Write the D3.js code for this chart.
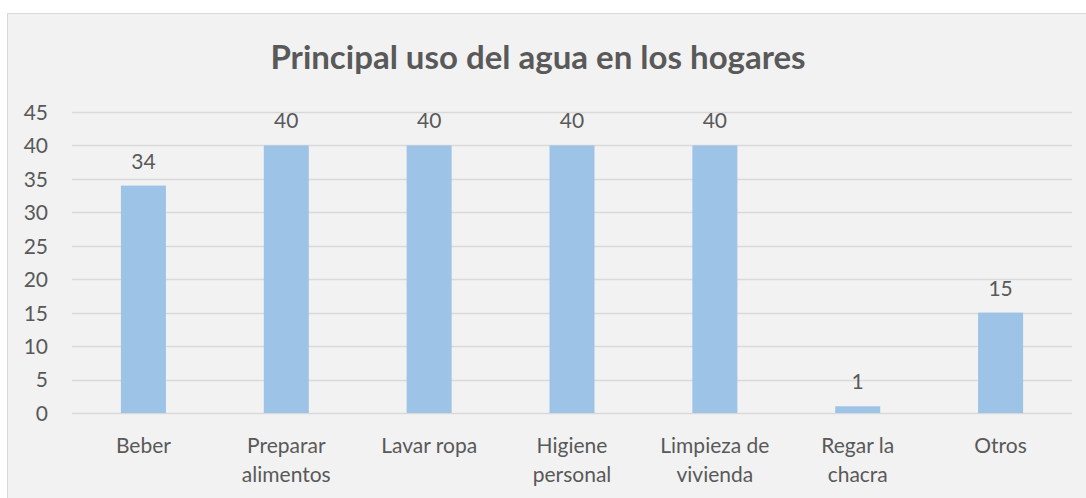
<!DOCTYPE html>
<html>
<head>
<meta charset="utf-8">
<script src="https://cdn.jsdelivr.net/npm/d3@7"></script>
<style>
  html, body { margin: 0; padding: 0; background: #ffffff; }
  svg { display: block; }
  text { font-family: Lato, "Open Sans", sans-serif; fill: #595959; }
</style>
</head>
<body>
<svg id="chart" width="1086" height="498"></svg>
<script>
// Category labels ("\n" marks a line break under the axis)
const categories = [
  "Beber",
  "Preparar\nalimentos",
  "Lavar ropa",
  "Higiene\npersonal",
  "Limpieza de\nvivienda",
  "Regar la\nchacra",
  "Otros"
];
// Number of households per use
const values = [34, 40, 40, 40, 40, 1, 15];
// Y-axis ticks
const yTicks = [0, 5, 10, 15, 20, 25, 30, 35, 40, 45];
const title = "Principal uso del agua en los hogares";

const svg = d3.select("#chart");
const W = 1086, H = 498;

// Chart area panel
svg.append("rect")
  .attr("x", 7.5).attr("y", 13.5)
  .attr("width", W).attr("height", H)
  .attr("fill", "#f2f2f2")
  .attr("stroke", "#d9d9d9").attr("stroke-width", 1);

const plot = { left: 72, right: 1072, top: 112, bottom: 413 };

const x = d3.scaleBand()
  .domain(categories)
  .range([plot.left, plot.right])
  .paddingInner(0.685)
  .paddingOuter(0.3425);

const y = d3.scaleLinear()
  .domain([0, 45])
  .range([plot.bottom, plot.top]);

// Title
svg.append("text")
  .attr("x", 538).attr("y", 69)
  .attr("text-anchor", "middle")
  .style("font-size", "33px")
  .style("font-weight", "bold")
  .text(title);

// Gridlines
svg.append("g")
  .selectAll("line")
  .data(yTicks)
  .join("line")
  .attr("x1", plot.left).attr("x2", plot.right)
  .attr("y1", d => Math.round(y(d)) + 0.5)
  .attr("y2", d => Math.round(y(d)) + 0.5)
  .attr("stroke", "#d9d9d9")
  .attr("stroke-width", 1.5);

// Y axis labels
const yAxis = d3.axisLeft(y).tickValues(yTicks).tickSize(0).tickPadding(0);
const gy = svg.append("g")
  .attr("transform", `translate(48,0)`)
  .call(yAxis);
gy.select(".domain").remove();
gy.selectAll("text")
  .attr("dy", "0.35em")
  .style("font-size", "21px")
  .style("fill", "#595959");

// Bars
svg.append("g")
  .selectAll("rect")
  .data(values)
  .join("rect")
  .attr("x", (d, i) => x(categories[i]))
  .attr("width", x.bandwidth())
  .attr("y", d => y(d))
  .attr("height", d => y(0) - y(d))
  .attr("fill", "#9dc3e6");

// Value labels
svg.append("g")
  .selectAll("text")
  .data(values)
  .join("text")
  .attr("x", (d, i) => x(categories[i]) + x.bandwidth() / 2)
  .attr("y", d => y(d) - 17)
  .attr("text-anchor", "middle")
  .style("font-size", "21px")
  .text(d => d);

// Category labels, wrapped on "\n"
const xAxis = d3.axisBottom(x).tickSize(0).tickFormat("");
const gx = svg.append("g")
  .attr("transform", `translate(0,${plot.bottom})`)
  .call(xAxis);
gx.select(".domain").remove();
gx.selectAll(".tick").each(function(d) {
  const t = d3.select(this).append("text")
    .attr("text-anchor", "middle")
    .attr("y", 40)
    .style("font-size", "21px")
    .style("fill", "#595959");
  d.split("\n").forEach((line, k) => {
    t.append("tspan").attr("x", 0).attr("dy", k === 0 ? 0 : 29).text(line);
  });
});
</script>
</body>
</html>
